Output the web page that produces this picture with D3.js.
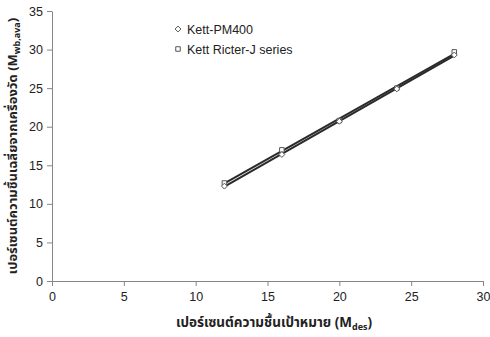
<!DOCTYPE html>
<html>
<head>
<meta charset="utf-8">
<script src="https://cdn.jsdelivr.net/npm/d3@7"></script>
<style>
  html, body { margin: 0; padding: 0; background: #fff; }
  svg { display: block; }
  text { font-family: "Liberation Sans", Arial, sans-serif; }
</style>
</head>
<body>
<svg id="chart" width="490" height="337"></svg>
<script>
// Target moisture (%) on the x axis
const targetMoisture = [12, 16, 20, 24, 28];
// Average moisture read by each meter
const pm400Values = [12.3, 16.4, 20.7, 24.9, 29.3];
const ricterValues = [12.7, 17.0, 20.8, 25.0, 29.7];
const seriesNames = ["Kett-PM400", "Kett Ricter-J series"];
const xTicks = [0, 5, 10, 15, 20, 25, 30];
const yTicks = [0, 5, 10, 15, 20, 25, 30, 35];

const svg = d3.select("#chart");
const margin = { left: 52, right: 7, top: 11, bottom: 56 };
const W = 490, H = 337;

const x = d3.scaleLinear().domain([0, 30]).range([margin.left, W - margin.right]);
const y = d3.scaleLinear().domain([0, 35]).range([H - margin.bottom, margin.top]);

const axisColor = "#868686";
const tickFont = 12.5;

// X axis
const gx = svg.append("g")
  .attr("transform", `translate(0,${y(0)})`)
  .call(d3.axisBottom(x).tickValues(xTicks).tickSize(5).tickSizeOuter(0).tickPadding(6));
// Y axis
const gy = svg.append("g")
  .attr("transform", `translate(${x(0)},0)`)
  .call(d3.axisLeft(y).tickValues(yTicks).tickSize(5).tickSizeOuter(0).tickPadding(4));

[gx, gy].forEach(g => {
  g.select(".domain").attr("stroke", axisColor).attr("stroke-width", 1);
  g.selectAll(".tick line").attr("stroke", axisColor);
  g.selectAll(".tick text")
    .attr("fill", "#222")
    .style("font-size", tickFont + "px")
    .style("font-family", "'Liberation Sans', Arial, sans-serif");
});

// Least-squares trend line for a series
function fitLine(xs, ys) {
  const mx = d3.mean(xs), my = d3.mean(ys);
  let sxy = 0, sxx = 0;
  xs.forEach((v, i) => { sxy += (v - mx) * (ys[i] - my); sxx += (v - mx) * (v - mx); });
  const b = sxy / sxx, a = my - b * mx;
  const x0 = d3.min(xs), x1 = d3.max(xs);
  return [[x0, a + b * x0], [x1, a + b * x1]];
}

const line = d3.line().x(d => x(d[0])).y(d => y(d[1]));
[pm400Values, ricterValues].forEach(vals => {
  svg.append("path")
    .attr("d", line(fitLine(targetMoisture, vals)))
    .attr("fill", "none")
    .attr("stroke", "#2a2a2a")
    .attr("stroke-width", 2);
});

const markerStroke = "#555";
const diamond = d3.symbol().type(d3.symbolDiamond2).size(22);
const square = d3.symbol().type(d3.symbolSquare2).size(26);

svg.append("g").selectAll("path")
  .data(targetMoisture.map((t, i) => [t, ricterValues[i]]))
  .join("path")
  .attr("transform", d => `translate(${x(d[0])},${y(d[1])})`)
  .attr("d", square)
  .attr("fill", "#fff")
  .attr("stroke", markerStroke)
  .attr("stroke-width", 1);

svg.append("g").selectAll("path")
  .data(targetMoisture.map((t, i) => [t, pm400Values[i]]))
  .join("path")
  .attr("transform", d => `translate(${x(d[0])},${y(d[1])})`)
  .attr("d", diamond)
  .attr("fill", "#fff")
  .attr("stroke", markerStroke)
  .attr("stroke-width", 1);

// Legend
const legend = svg.append("g").attr("transform", "translate(178,29)");
const legendSymbols = [diamond, square];
seriesNames.forEach((name, i) => {
  const row = legend.append("g").attr("transform", `translate(0,${i * 20})`);
  row.append("path").attr("d", legendSymbols[i])
    .attr("fill", "#fff").attr("stroke", markerStroke).attr("stroke-width", 1);
  row.append("text").attr("x", 9).attr("y", 4.5)
    .style("font-size", "12.5px").attr("fill", "#222").text(name);
});

// Axis titles
const thaiFont = "'Noto Sans Thai', 'Noto Sans', 'DejaVu Sans', sans-serif";
const xTitle = svg.append("text")
  .attr("x", 274).attr("y", 327)
  .attr("text-anchor", "middle")
  .style("font-size", "13.5px").style("font-weight", "bold")
  .style("font-family", thaiFont).attr("fill", "#222");
xTitle.append("tspan").text("เปอร์เซนต์ความชื้นเป้าหมาย (M");
xTitle.append("tspan").attr("dy", 3).style("font-size", "9px").text("des");
xTitle.append("tspan").attr("dy", -3).text(")");

const yTitle = svg.append("text")
  .attr("transform", `translate(17,${(y(0) + y(35)) / 2}) rotate(-90)`)
  .attr("text-anchor", "middle")
  .style("font-size", "13px").style("font-weight", "bold")
  .style("font-family", thaiFont).attr("fill", "#222");
yTitle.append("tspan").text("เปอร์เซนต์ความชื้นเฉลี่ยจากเครื่องวัด (M");
yTitle.append("tspan").attr("dy", 3).style("font-size", "9px").text("wb,ava");
yTitle.append("tspan").attr("dy", -3).text(")");
</script>
</body>
</html>
